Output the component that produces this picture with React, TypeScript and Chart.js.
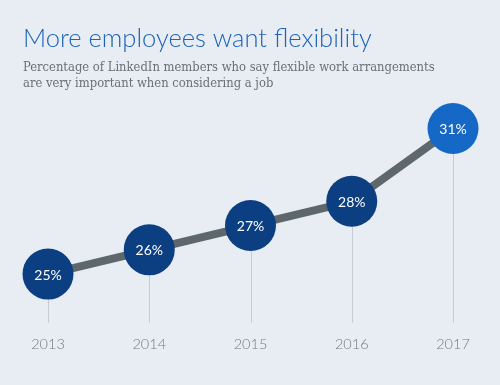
import { useEffect, useRef } from 'react';
import { Chart, registerables } from 'chart.js';

Chart.register(...registerables);

const years = ['2013', '2014', '2015', '2016', '2017'];
const shares = [25, 26, 27, 28, 31];
const titleText = 'More employees want flexibility';
const subtitleLines = [
  'Percentage of LinkedIn members who say flexible work arrangements',
  'are very important when considering a job',
];

const BG = '#e8ecf3';
const NAVY = '#0c3f82';
const BRIGHT = '#1568c6';

const decor = {
  id: 'decor',
  beforeDraw(chart: any) {
    const { ctx, width, height } = chart;
    ctx.save();
    ctx.fillStyle = BG;
    ctx.fillRect(0, 0, width, height);
    ctx.textAlign = 'left';
    ctx.textBaseline = 'alphabetic';
    ctx.fillStyle = '#1c63ba';
    ctx.font = '300 25.5px Lato';
    ctx.fillText(titleText, 23, 47);
    ctx.fillStyle = '#6b6f76';
    try { (ctx as any).fontStretch = 'condensed'; } catch (e) {}
    ctx.font = '13px "DejaVu Serif Condensed", "DejaVu Serif"';
    let w = ctx.measureText(subtitleLines[0]).width;
    let size = 13 * Math.min(1, 412 / w);
    ctx.font = size.toFixed(2) + 'px "DejaVu Serif Condensed", "DejaVu Serif"';
    ctx.fillText(subtitleLines[0], 23, 71);
    ctx.fillText(subtitleLines[1], 23, 87);
    ctx.restore();
  },
  beforeDatasetsDraw(chart: any) {
    const { ctx, chartArea } = chart;
    const meta = chart.getDatasetMeta(0);
    ctx.save();
    ctx.strokeStyle = '#c6cbd3';
    ctx.lineWidth = 1;
    meta.data.forEach((pt: any) => {
      const x = Math.round(pt.x) + 0.5;
      ctx.beginPath();
      ctx.moveTo(x, pt.y);
      ctx.lineTo(x, chartArea.bottom);
      ctx.stroke();
    });
    ctx.restore();
  },
  afterDatasetsDraw(chart: any) {
    const { ctx } = chart;
    const meta = chart.getDatasetMeta(0);
    ctx.save();
    ctx.fillStyle = '#ffffff';
    ctx.font = '400 14px Lato';
    ctx.textAlign = 'center';
    ctx.textBaseline = 'middle';
    meta.data.forEach((pt: any, i: number) => {
      ctx.fillText(shares[i] + '%', pt.x, pt.y + 1);
    });
    ctx.restore();
  },
};

export default function App() {
  const ref = useRef<HTMLCanvasElement>(null);
  useEffect(() => {
    document.body.style.margin = '0';
    document.body.style.background = BG;
    const chart = new Chart(ref.current as HTMLCanvasElement, {
      type: 'line',
      data: {
        labels: years,
        datasets: [
          {
            data: shares,
            borderColor: '#5d676c',
            borderWidth: 8,
            tension: 0,
            clip: false as any,
            pointRadius: 25.5,
            pointHoverRadius: 25.5,
            pointBorderWidth: 0,
            pointBackgroundColor: shares.map((_, i) => (i === shares.length - 1 ? BRIGHT : NAVY)),
          },
        ],
      },
      options: {
        responsive: false,
        animation: false,
        layout: { padding: { left: 48, right: 47, top: 80, bottom: 19 } },
        plugins: { legend: { display: false }, tooltip: { enabled: false } },
        scales: {
          x: {
            offset: false,
            grid: { display: false, drawTicks: false },
            border: { display: false },
            ticks: { color: '#757a81', font: { family: 'Lato', size: 14.5, weight: 300 as any }, padding: 13 },
          },
          y: { display: false, min: 23, max: 33 },
        },
      },
      plugins: [decor],
    });
    return () => chart.destroy();
  }, []);
  return (
    <div style={{ width: 500, height: 385 }}>
      <canvas ref={ref} width={500} height={385} />
    </div>
  );
}
